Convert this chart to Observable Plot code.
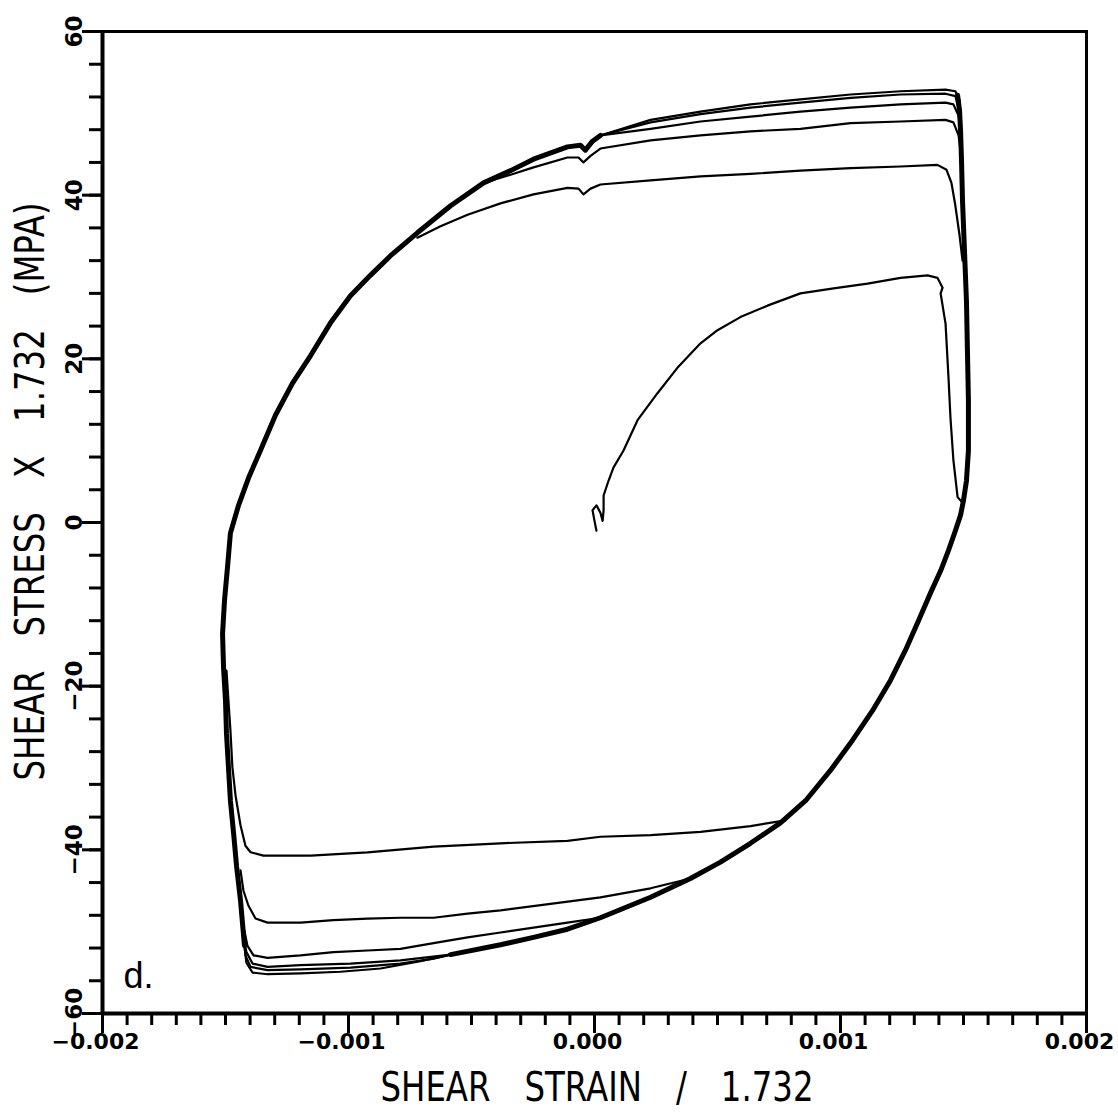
<!DOCTYPE html>
<html><head><meta charset="utf-8">
<script src="https://cdn.jsdelivr.net/npm/d3@7"></script>
<script src="https://cdn.jsdelivr.net/npm/@observablehq/plot@0.6"></script>
<style>body{margin:0;background:#fff;}</style>
</head><body><div id="chart"></div>
<script>
// [shear strain / 1.732, shear stress x 1.732 (MPa)]
const initialLoading = [[0.000008,-1.0],[0.000000,0.2],[-0.000008,1.5],[0.000008,2.1],[0.000024,1.2],[0.000033,0.2],[0.000037,1.5],[0.000037,3.3],[0.000057,5.1],[0.000077,6.7],[0.000118,8.8],[0.000175,12.5],[0.000256,15.8],[0.000337,18.9],[0.000431,21.9],[0.000500,23.5],[0.000593,25.1],[0.000703,26.5],[0.000837,28.0],[0.000972,28.6],[0.001110,29.2],[0.001244,29.9],[0.001354,30.2],[0.001394,29.9],[0.001415,28.7],[0.001407,28.0],[0.001427,24.3],[0.001439,17.7],[0.001447,12.8],[0.001459,7.6],[0.001476,3.1],[0.001500,2.3]];

const tensionEnvelope = [[-0.001423,-51.7],[-0.001439,-46.2],[-0.001455,-42.0],[-0.001467,-38.0],[-0.001480,-34.0],[-0.001488,-29.9],[-0.001496,-25.8],[-0.001500,-21.8],[-0.001508,-17.7],[-0.001512,-13.6],[-0.001504,-9.5],[-0.001492,-5.5],[-0.001480,-1.3],[-0.001447,2.1],[-0.001407,5.4],[-0.001358,8.8],[-0.001297,13.1],[-0.001228,17.0],[-0.001154,20.4],[-0.001073,24.4],[-0.000992,27.7],[-0.000911,30.2],[-0.000829,32.6],[-0.000720,35.4],[-0.000585,38.7],[-0.000451,41.5],[-0.000341,43.0],[-0.000248,44.4],[-0.000110,45.9],[-0.000057,46.1],[-0.000037,45.5],[-0.000008,46.6],[0.000024,47.3]];

const compressionEnvelope = [[0.001476,52.2],[0.001484,50.3],[0.001488,47.9],[0.001492,44.2],[0.001496,39.3],[0.001504,33.2],[0.001512,27.1],[0.001516,21.0],[0.001520,14.9],[0.001520,8.8],[0.001512,5.1],[0.001500,2.7],[0.001488,0.9],[0.001467,-1.0],[0.001439,-3.4],[0.001407,-5.9],[0.001366,-8.6],[0.001317,-12.0],[0.001264,-15.6],[0.001203,-19.3],[0.001130,-23.0],[0.001049,-26.6],[0.000959,-30.3],[0.000858,-34.0],[0.000756,-36.7],[0.000634,-39.2],[0.000512,-41.5],[0.000390,-43.5],[0.000228,-45.8],[0.000024,-48.3],[-0.000110,-49.7],[-0.000248,-50.7],[-0.000382,-51.6],[-0.000585,-52.8]];

const tension1 = [[-0.000720,34.8],[-0.000626,36.2],[-0.000516,37.6],[-0.000382,39.0],[-0.000248,40.1],[-0.000110,40.9],[-0.000065,40.8],[-0.000045,40.1],[-0.000016,40.8],[0.000024,41.3],[0.000228,41.8],[0.000431,42.3],[0.000634,42.6],[0.000837,43.0],[0.001041,43.3],[0.001244,43.5],[0.001394,43.7],[0.001431,43.1],[0.001451,41.5],[0.001467,38.7],[0.001484,35.1],[0.001496,32.0]];
const tension2 = [[-0.000451,41.5],[-0.000341,42.5],[-0.000248,43.4],[-0.000110,44.6],[-0.000065,44.6],[-0.000045,44.0],[-0.000016,44.8],[0.000024,45.7],[0.000228,46.7],[0.000431,47.3],[0.000634,47.8],[0.000837,48.1],[0.001041,48.8],[0.001244,49.0],[0.001427,49.2],[0.001459,48.9],[0.001480,47.3],[0.001490,45.0]];
const tension3 = [[0.000024,47.3],[0.000228,48.1],[0.000431,49.0],[0.000634,49.6],[0.000837,50.2],[0.001041,50.7],[0.001244,51.1],[0.001427,51.3],[0.001459,51.1],[0.001480,49.7],[0.001488,47.9]];
const tension4 = [[0.000024,47.3],[0.000228,48.9],[0.000431,49.9],[0.000634,50.7],[0.000837,51.3],[0.001041,51.9],[0.001244,52.3],[0.001427,52.4],[0.001467,52.1],[0.001480,50.6],[0.001488,47.9]];
const tension5 = [[0.000024,47.3],[0.000228,49.2],[0.000431,50.2],[0.000634,51.1],[0.000837,51.7],[0.001041,52.3],[0.001244,52.7],[0.001427,52.9],[0.001467,52.7],[0.001484,51.6],[0.001488,49.5]];

const compression1 = [[0.000776,-36.4],[0.000634,-37.1],[0.000431,-37.8],[0.000228,-38.2],[0.000024,-38.4],[-0.000110,-38.9],[-0.000382,-39.2],[-0.000654,-39.6],[-0.000923,-40.3],[-0.001154,-40.7],[-0.001346,-40.7],[-0.001398,-40.3],[-0.001419,-39.5],[-0.001439,-37.0],[-0.001459,-33.4],[-0.001472,-29.9],[-0.001480,-25.4],[-0.001488,-21.8],[-0.001496,-18.1]];
const compression2 = [[0.000390,-43.5],[0.000228,-44.7],[0.000024,-45.8],[-0.000179,-46.6],[-0.000382,-47.4],[-0.000516,-47.8],[-0.000654,-48.3],[-0.000789,-48.3],[-0.000923,-48.4],[-0.001061,-48.6],[-0.001195,-48.9],[-0.001329,-48.9],[-0.001378,-48.4],[-0.001407,-46.8],[-0.001427,-45.0],[-0.001439,-42.5]];
const compression3 = [[0.000024,-48.3],[-0.000110,-48.9],[-0.000248,-49.5],[-0.000382,-50.1],[-0.000516,-50.7],[-0.000654,-51.4],[-0.000789,-52.1],[-0.000923,-52.3],[-0.001061,-52.5],[-0.001195,-52.9],[-0.001329,-53.2],[-0.001386,-52.9],[-0.001411,-51.7],[-0.001423,-49.9]];
const compression4 = [[-0.000585,-52.8],[-0.000789,-53.5],[-0.000992,-53.9],[-0.001195,-54.1],[-0.001329,-54.3],[-0.001390,-53.9],[-0.001415,-52.5],[-0.001427,-50.5]];
const compression5 = [[-0.000585,-52.8],[-0.000654,-53.3],[-0.000789,-53.9],[-0.000992,-54.4],[-0.001195,-54.6],[-0.001329,-54.7],[-0.001398,-54.3],[-0.001419,-52.9],[-0.001427,-50.5]];
const compression6 = [[-0.000585,-52.8],[-0.000707,-53.6],[-0.000870,-54.5],[-0.001033,-54.9],[-0.001195,-55.1],[-0.001329,-55.2],[-0.001390,-55.0],[-0.001415,-53.8],[-0.001423,-51.7]];

const xMajorTicks = [-0.002, -0.001, 0.000, 0.001, 0.002];
const yMajorTicks = [-60, -40, -20, 0, 20, 40, 60];
const xTitle = "SHEAR STRAIN / 1.732";
const yTitle = "SHEAR STRESS X 1.732 (MPA)";
const panelLabel = "d.";

const xMinorTicks = d3.range(-20, 21).map(i => i / 10000);
const yMinorTicks = d3.range(-15, 16).map(i => i * 4);

const toRows = (name, pts) => pts.map(([strain, stress]) => ({series: name, strain, stress}));
const thinRows = [
  ...toRows("initial", initialLoading),
  ...toRows("t1", tension1), ...toRows("t2", tension2), ...toRows("t3", tension3),
  ...toRows("t4", tension4), ...toRows("t5", tension5),
  ...toRows("c1", compression1), ...toRows("c2", compression2), ...toRows("c3", compression3),
  ...toRows("c4", compression4), ...toRows("c5", compression5), ...toRows("c6", compression6)
];
const bundleRows = [...toRows("tenv", tensionEnvelope), ...toRows("cenv", compressionEnvelope)];

const font = "'Liberation Sans', Arial, Helvetica, sans-serif";
const tickFont = "'DejaVu Sans', Verdana, sans-serif";
const plot = Plot.plot({
  width: 1118, height: 1118,
  marginLeft: 102, marginRight: 32, marginTop: 31, marginBottom: 105,
  style: {fontFamily: font, background: "white", color: "black"},
  x: {domain: [-0.002, 0.002]},
  y: {domain: [-60, 60]},
  marks: [
    Plot.line(bundleRows, {x: "strain", y: "stress", z: "series", stroke: "black", strokeWidth: 5, strokeLinejoin: "round"}),
    Plot.line(thinRows, {x: "strain", y: "stress", z: "series", stroke: "black", strokeWidth: 2.2, strokeLinejoin: "round"}),
    Plot.frame({stroke: "black", strokeWidth: 3}),
    Plot.ruleX([-0.002], {stroke: "black", strokeWidth: 4}),
    Plot.ruleY([-60], {stroke: "black", strokeWidth: 4}),
    Plot.axisX(xMinorTicks, {tickSize: 12, strokeWidth: 3, tickFormat: () => "", label: null}),
    Plot.axisX(xMajorTicks, {tickSize: 20, strokeWidth: 3, tickFormat: () => "", label: null}),
    Plot.axisX(xMajorTicks, {tickSize: 0, tickPadding: 20, tickFormat: d3.format(".3f"), fontSize: 22, fontWeight: "bold", fontFamily: tickFont, dx: -7, label: null}),
    Plot.axisY(yMinorTicks, {tickSize: 13, strokeWidth: 3, tickFormat: () => "", label: null}),
    Plot.axisY(yMajorTicks, {tickSize: 20, strokeWidth: 3, tickPadding: 1, tickRotate: -90, tickFormat: d3.format("d"), fontSize: 23, fontWeight: "bold", fontFamily: tickFont, label: null}),
    Plot.text([panelLabel], {text: d => d, frameAnchor: "bottom-left", dx: 21, dy: -26, fontSize: 36, textAnchor: "start", lineAnchor: "bottom"}),
    Plot.text([xTitle], {text: d => d, frameAnchor: "bottom-left", dx: 278, dy: 87, fontSize: 41, fontFamily: tickFont, textAnchor: "start", lineAnchor: "bottom", className: "xtitle"}),
    Plot.text([yTitle], {text: d => d, frameAnchor: "left", dx: -59, dy: 258, rotate: -90, fontSize: 41, fontFamily: tickFont, textAnchor: "start", lineAnchor: "bottom", className: "ytitle"})
  ]
});
d3.select(plot).selectAll(".xtitle text, .ytitle text")
  .style("word-spacing", "30px")
  .attr("transform", function() { return (this.getAttribute("transform") || "") + " scale(0.79,1)"; });
document.getElementById("chart").appendChild(plot);
</script>
</body></html>
